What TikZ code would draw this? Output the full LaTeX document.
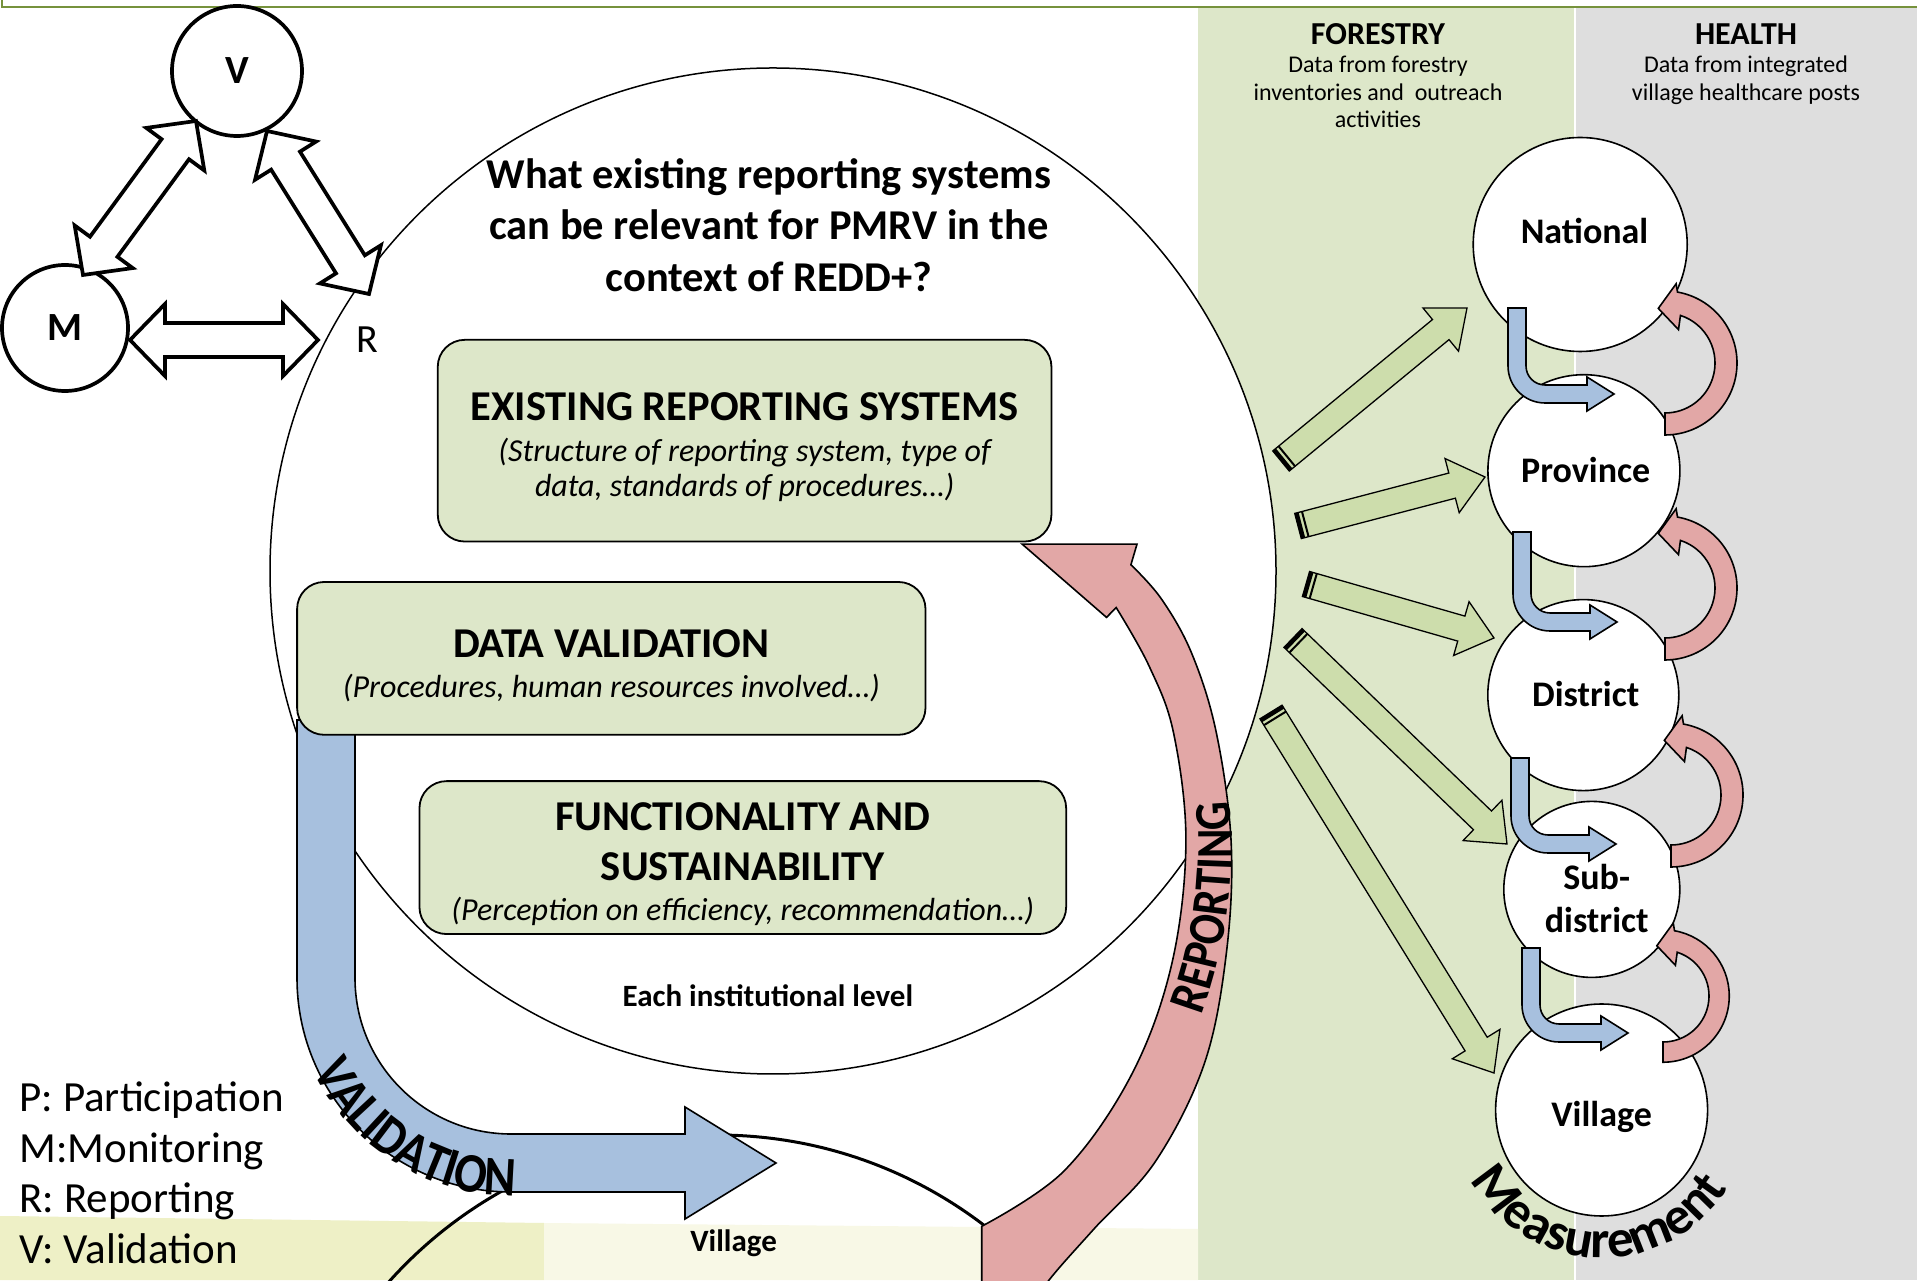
\documentclass[tikz,border=0pt]{standalone}
\usepackage{fontspec}
\setmainfont{Carlito}
\newfontfamily\condfont[FakeStretch=0.86]{Carlito}
\usetikzlibrary{decorations.text}
\definecolor{colgreen}{RGB}{221,231,201}
\definecolor{colgray}{RGB}{222,222,222}
\definecolor{bandyellow}{RGB}{238,240,198}
\definecolor{bandcream}{RGB}{248,248,230}
\definecolor{oliveline}{RGB}{118,146,60}
\definecolor{boxgreen}{RGB}{221,231,201}
\definecolor{arrowgreen}{RGB}{205,221,172}
\definecolor{valblue}{RGB}{167,192,222}
\definecolor{repred}{RGB}{226,167,166}
\newcommand{\setfs}[1]{\fontsize{#1}{#1}\selectfont}
% read two named points
\newcommand{\readpts}[2]{%
  \path (#1); \pgfgetlastxy{\tmpax}{\tmpay}%
  \path (#2); \pgfgetlastxy{\tmpbx}{\tmpby}%
  \pgfmathsetmacro\arang{atan2(\tmpby-\tmpay,\tmpbx-\tmpax)}%
  \pgfmathsetmacro\arlen{100*veclen((\tmpbx-\tmpax)/100,(\tmpby-\tmpay)/100)}%
}
% double headed block arrow: from, to, shaft hw, head hw, head len, style
\newcommand{\dblarrow}[6]{%
  \readpts{#1}{#2}%
  \begin{scope}[shift={(#1)},rotate=\arang]
    \draw[#6] (0,0) -- (#5,#4) -- (#5,#3) -- ({\arlen-#5},#3) -- ({\arlen-#5},#4) -- (\arlen,0)
      -- ({\arlen-#5},-#4) -- ({\arlen-#5},-#3) -- (#5,-#3) -- (#5,-#4) -- cycle;
  \end{scope}}
% striped green block arrow: from, to
\newcommand{\feedarrow}[2]{%
  \readpts{#1}{#2}%
  \begin{scope}[shift={(#1)},rotate=\arang]
    \draw[garr] (0,-13) -- ({\arlen-34},-13) -- ({\arlen-34},-28) -- (\arlen,0)
      -- ({\arlen-34},28) -- ({\arlen-34},13) -- (0,13) -- cycle;
    \fill[black] (0,-13) rectangle (4,13);
    \fill[black] (6.5,-13) rectangle (8.5,13);
  \end{scope}}
% bent blue arrow between levels: top point, tip point
\newcommand{\levelarrow}[2]{%
  \readpts{#1}{#2}%
  \pgfmathsetmacro\lcx{\tmpax}\pgfmathsetmacro\ltop{\tmpay}%
  \pgfmathsetmacro\ltx{\tmpbx}\pgfmathsetmacro\lhy{\tmpby}%
  \draw[barr] ({\lcx-9},\ltop) -- ({\lcx-9},{\lhy+28}) arc[start angle=180,end angle=270,radius=37]
    -- ({\ltx-27},{\lhy-9}) -- ({\ltx-27},{\lhy-17}) -- (\ltx,\lhy) -- ({\ltx-27},{\lhy+17})
    -- ({\ltx-27},{\lhy+9}) -- ({\lcx+28},{\lhy+9}) arc[start angle=270,end angle=180,radius=19]
    -- ({\lcx+9},\ltop) -- cycle;}
% curved red arrow going up between levels: centre, scale
\newcommand{\uploop}[2]{%
  \begin{scope}[shift={(#1)},scale=#2]
    \draw[rarr] (-90:50) -- (-90:72) arc[start angle=-90,end angle=80,radius=72]
      -- (82:80) -- (97:55) -- (68:36) -- (72:50) arc[start angle=72,end angle=-90,radius=50] -- cycle;
  \end{scope}}

\begin{document}
\begin{tikzpicture}[x=1pt,y=1pt,
  txt/.style={inner sep=0pt, outer sep=0pt, anchor=base},
  lvl/.style={circle, draw=black, line width=1.6pt, fill=white, inner sep=0pt},
  infobox/.style={draw=black, line width=1.8pt, fill=boxgreen, rounded corners=27pt, inner sep=0pt},
  vmr/.style={circle, draw=black, line width=3.7pt, fill=white, inner sep=0pt},
  blk/.style={draw=black, line width=3.7pt, fill=white, line join=miter},
  garr/.style={draw=black, line width=1.3pt, fill=arrowgreen},
  barr/.style={draw=black, line width=1.6pt, fill=valblue},
  rarr/.style={draw=black, line width=1.6pt, fill=repred},
  head/.style={txt, font=\setfs{42.5}\bfseries},
  ital/.style={txt, font=\setfs{32}\itshape},
  lvltxt/.style={txt, font=\setfs{36}\bfseries},
  legend/.style={inner sep=0pt, outer sep=0pt, anchor=base west, font=\setfs{43}},
]
\useasboundingbox (0,0) rectangle (1917,1280);
\clip (0,0) rectangle (1917,1280);
\fill[white] (0,0) rectangle (1917,1280);
% background columns and bands
\fill[colgreen] (1198,0) rectangle (1575,1272);
\fill[colgray] (1575,0) rectangle (1917,1272);
\draw[white, line width=2pt] (1575,0) -- (1575,1272);
\fill[bandyellow] (0,0) -- (0,64) -- (544,57) -- (544,0) -- cycle;
\fill[bandcream] (544,0) -- (544,57) -- (1198,51) -- (1198,0) -- cycle;
\draw[oliveline, line width=2.5pt] (2,1284) -- (2,1273) -- (1920,1273);

% village circle (bottom) and big institutional circle
\node[circle, draw=black, line width=3pt, minimum size=880pt, inner sep=0pt] (vilc) at (717,-295) {};
\node[circle, draw=black, line width=1.5pt, fill=white, minimum size=1006pt, inner sep=0pt] (big) at (773,709) {};

% P M R V triangle
\node[vmr, minimum size=130pt] (V) at (237,1209) {};
\node[vmr, minimum size=126pt] (M) at (65,952) {};
\node[txt, font=\setfs{40}\bfseries] (Vl) at (237,1196) {V};
\node[txt, font=\setfs{40}\bfseries] (Ml) at (65,939) {M};
\node[txt, font=\setfs{40}] (R) at (367,927) {R};
\coordinate (vm1) at (196,1159); \coordinate (vm2) at (83,1005);
\coordinate (vr1) at (267,1149); \coordinate (vr2) at (369,986);
\coordinate (mr1) at (130,940);  \coordinate (mr2) at (318,940);
\dblarrow{vm1}{vm2}{17}{36}{35}{blk}
\dblarrow{vr1}{vr2}{17}{36}{35}{blk}
\dblarrow{mr1}{mr2}{17}{36}{35}{blk}

% title
\node[head] (t1) at (769,1091.6) {What existing reporting systems};
\node[head] (t2) at (769,1040.6) {can be relevant for PMRV in the};
\node[head] (t3) at (769,988.6) {context of REDD+?};

% VALIDATION arrow
\draw[barr] (297,560) -- (297,302) arc[start angle=180,end angle=270,radius=214]
  -- (685,88) -- (685,61) -- (776,117) -- (685,173) -- (685,146) -- (511,146)
  arc[start angle=270,end angle=180,radius=156] -- (355,560) -- cycle;

% REPORTING arrow
\draw[rarr] (1022.1,735.9) -- (1137.0,735.9) -- (1130.9,715.2)
  -- plot[smooth, tension=0.6] coordinates {(1130.9,715.2) (1161.5,680.9) (1192.0,625.9) (1216.5,546.4) (1231.2,436.4) (1226.3,326.4) (1204.3,216.3) (1155.4,118.5) (1094.2,51.3) (1049.0,-0.1) (1027,-34)}
  -- (981.7,-34) -- (981.7,53.7)
  -- plot[smooth, tension=0.6] coordinates {(981.7,53.7) (1063.7,108.7) (1130.9,204.1) (1171.3,314.1) (1185.9,436.4) (1173.7,546.4) (1149.2,613.7) (1116.2,672.4)}
  -- (1106.5,662.6) -- cycle;

% boxes
\node[infobox, minimum width=613.7pt, minimum height=201.7pt] (box1) at (744.6,839.3) {};
\node[infobox, minimum width=628.4pt, minimum height=152.8pt] (box2) at (611.3,621.6) {};
\node[infobox, minimum width=646.7pt, minimum height=152.9pt] (box3) at (742.8,422.4) {};
\node[head] (b1h) at (744.6,859.5) {EXISTING REPORTING SYSTEMS};
\node[ital] (b1a) at (744.6,818.9) {(Structure of reporting system, type of};
\node[ital] (b1b) at (744.6,783.4) {data, standards of procedures…)};
\node[head] (b2h) at (611.3,622.3) {DATA VALIDATION};
\node[ital] (b2a) at (611.3,582.9) {(Procedures, human resources involved…)};
\node[head] (b3h) at (742.7,449.9) {FUNCTIONALITY AND};
\node[head] (b3i) at (742.7,399.8) {SUSTAINABILITY};
\node[ital] (b3a) at (742.7,359.2) {(Perception on efficiency, recommendation…)};
\node[txt, font=\setfs{31}\bfseries] (each) at (767.8,273.6) {Each institutional level};
\node[txt, font=\setfs{31}\bfseries] (vil) at (733.6,29) {Village};

% legend
\node[legend] (lP) at (19.6,168) {P: Participation};
\node[legend] (lM) at (19.6,117) {M:Monitoring};
\node[legend] (lR) at (19.6,67) {R: Reporting};
\node[legend] (lV) at (19.6,17) {V: Validation};

% column headers
\node[txt, font=\setfs{32}\bfseries] (forT) at (1378,1235.6) {FORESTRY};
\node[txt, font=\setfs{24}] (for1) at (1378,1207.5) {Data from forestry};
\node[txt, font=\setfs{24}] (for2) at (1378,1179.4) {inventories and \ outreach};
\node[txt, font=\setfs{24}] (for3) at (1378,1152.5) {activities};
\node[txt, font=\setfs{32}\bfseries] (heaT) at (1746,1235.6) {HEALTH};
\node[txt, font=\setfs{24}] (hea1) at (1746,1207.5) {Data from integrated};
\node[txt, font=\setfs{24}] (hea2) at (1746,1179.4) {village healthcare posts};

% green arrows from institutional circle to levels
\coordinate (g1t) at (1281,819); \coordinate (g1h) at (1467,972);
\coordinate (g2t) at (1298,754); \coordinate (g2h) at (1485,803);
\coordinate (g3t) at (1306,696); \coordinate (g3h) at (1494,642);
\coordinate (g4t) at (1293,642); \coordinate (g4h) at (1507,436);
\coordinate (g5t) at (1271,568); \coordinate (g5h) at (1494,207);
\feedarrow{g1t}{g1h}
\feedarrow{g2t}{g2h}
\feedarrow{g3t}{g3h}
\feedarrow{g4t}{g4h}
\feedarrow{g5t}{g5h}

% level circles
\node[lvl, minimum size=214pt] (nat) at (1580.2,1035.5) {};
\node[lvl, minimum size=192pt] (prov) at (1583.9,809.3) {};
\node[lvl, minimum size=191pt] (dist) at (1583.3,584.9) {};
\node[lvl, minimum size=176pt] (sub) at (1591.8,390.6) {};
\node[lvl, minimum size=212pt] (vlg) at (1601.6,170) {};
\node[lvltxt] (natl) at (1584.5,1036.2) {National};
\node[lvltxt] (provl) at (1585.7,797.5) {Province};
\node[lvltxt] (distl) at (1585.7,573.5) {District};
\node[lvltxt] (subl1) at (1596.7,390.5) {Sub-};
\node[lvltxt] (subl2) at (1596.7,347.9) {district};
\node[lvltxt] (vlgl) at (1601.6,153.5) {Village};

% blue validation arrows between levels
\coordinate (b1s) at (1517,972); \coordinate (b1e) at (1614,886);
\coordinate (b2s) at (1522,748); \coordinate (b2e) at (1617,658);
\coordinate (b3s) at (1520,522); \coordinate (b3e) at (1616,436);
\coordinate (b4s) at (1531,332); \coordinate (b4e) at (1628,247);
\levelarrow{b1s}{b1e}
\levelarrow{b2s}{b2e}
\levelarrow{b3s}{b3e}
\levelarrow{b4s}{b4e}

% red reporting loops between levels
\coordinate (r1c) at (1665,917);
\coordinate (r2c) at (1665,692);
\coordinate (r3c) at (1671,485);
\coordinate (r4c) at (1663,284);
\uploop{r1c}{1}
\uploop{r2c}{1}
\uploop{r3c}{1}
\uploop{r4c}{0.92}

% curved labels
\path[decorate, decoration={text along path, text={|\condfont\setfs{56}\bfseries|VALIDATION}, text align=center}]
  (511,302) ++(188:218) arc[start angle=188,end angle=288,radius=218];
\path[decorate, decoration={text along path, text={|\condfont\setfs{52}\bfseries|REPORTING}, text align=center}]
  (742,434) ++(-25:490) arc[start angle=-25,end angle=10,radius=490];
\path[decorate, decoration={text along path, text={|\setfs{53}\bfseries|Measurement}, text align=center}]
  (1602,170) ++(198:148) arc[start angle=198,end angle=338,radius=148];
\end{tikzpicture}
\end{document}
